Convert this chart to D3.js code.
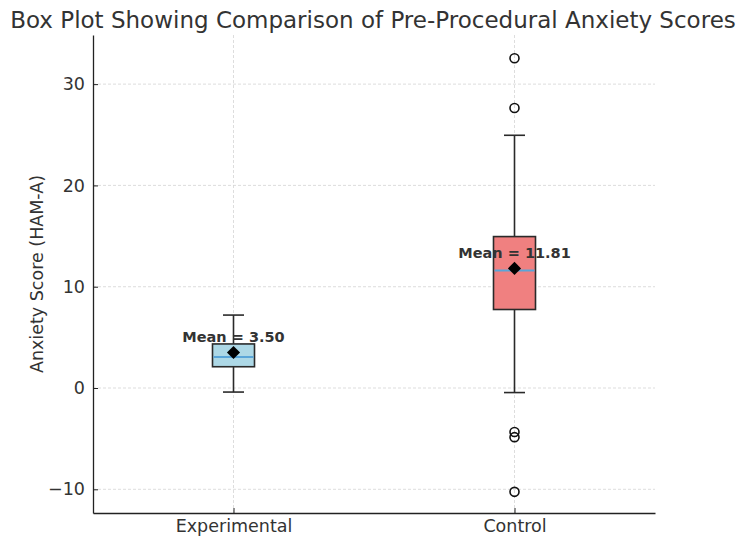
<!DOCTYPE html>
<html>
<head>
<meta charset="utf-8">
<script src="https://cdn.jsdelivr.net/npm/d3@7"></script>
<style>
	body { margin: 0; background: white; }
	text { font-family: "DejaVu Sans", sans-serif; fill: #333; }
</style>
</head>
<body>
<svg id="chart" width="750" height="548"></svg>
<script>
// box statistics
const groups = ["Experimental", "Control"];
const whisker_low = [-0.4, -0.45];
const q1 = [2.1, 7.75];
const medians = [3.05, 11.6];
const q3 = [4.35, 14.95];
const whisker_high = [7.2, 24.95];
const means = [3.50, 11.81];
const outliers = [[], [32.55, 27.65, -4.35, -4.85, -10.25]];
const box_colors = ["#add8e6", "#f08080"];
const y_ticks = [-10, 0, 10, 20, 30];

const svg = d3.select("#chart");
const margin = {left: 93, right: 95, top: 35, bottom: 35};
const width = 750 - margin.left - margin.right;
const height = 548 - margin.top - margin.bottom;

const x = d3.scaleLinear().domain([0.5, 2.5]).range([0, width]);
const y = d3.scaleLinear().domain([-12.34, 34.85]).range([height, 0]);

const g = svg.append("g")
	.attr("transform", "translate(" + margin.left + "," + margin.top + ")");

// grid
g.selectAll(".hgrid")
	.data(y_ticks)
	.enter()
	.append("line")
	.attr("x1", 0).attr("x2", width)
	.attr("y1", d => y(d)).attr("y2", d => y(d))
	.attr("stroke", "#d4d4d4").attr("stroke-dasharray", "3,2").attr("stroke-width", 0.8);

g.selectAll(".vgrid")
	.data(groups)
	.enter()
	.append("line")
	.attr("x1", (d, i) => x(i + 1)).attr("x2", (d, i) => x(i + 1))
	.attr("y1", 0).attr("y2", height)
	.attr("stroke", "#d4d4d4").attr("stroke-dasharray", "3,2").attr("stroke-width", 0.8);

// axes
const y_axis = d3.axisLeft(y).tickValues(y_ticks).tickSizeInner(-5).tickSizeOuter(0).tickPadding(8)
	.tickFormat(d => d < 0 ? "\u2212" + Math.abs(d) : d);
const y_g = g.append("g").call(y_axis);
y_g.selectAll("text").style("font-size", "17.5px");

const x_axis = d3.axisBottom(x).tickValues([1, 2]).tickSizeInner(-5).tickSizeOuter(0).tickPadding(7)
	.tickFormat(d => groups[d - 1]);
const x_g = g.append("g").attr("transform", "translate(0," + height + ")").call(x_axis);
x_g.selectAll("text").style("font-size", "17.5px");

[y_g, x_g].forEach(a => {
	a.select(".domain").attr("stroke", "#222").attr("stroke-width", 1.3);
	a.selectAll(".tick line").attr("stroke", "#222").attr("stroke-width", 1);
	a.selectAll("text").attr("fill", "#333");
});

// boxes
const box_w = 42;
const cap_w = 21;
const box = g.selectAll(".box")
	.data(groups)
	.enter()
	.append("g")
	.attr("class", "box")
	.attr("transform", (d, i) => "translate(" + x(i + 1) + ",0)");

box.append("line")
	.attr("y1", (d, i) => y(whisker_low[i])).attr("y2", (d, i) => y(q1[i]))
	.attr("stroke", "#2a2a2a").attr("stroke-width", 1.6);
box.append("line")
	.attr("y1", (d, i) => y(q3[i])).attr("y2", (d, i) => y(whisker_high[i]))
	.attr("stroke", "#2a2a2a").attr("stroke-width", 1.6);
box.append("line")
	.attr("x1", -cap_w / 2).attr("x2", cap_w / 2)
	.attr("y1", (d, i) => y(whisker_low[i])).attr("y2", (d, i) => y(whisker_low[i]))
	.attr("stroke", "#2a2a2a").attr("stroke-width", 1.6);
box.append("line")
	.attr("x1", -cap_w / 2).attr("x2", cap_w / 2)
	.attr("y1", (d, i) => y(whisker_high[i])).attr("y2", (d, i) => y(whisker_high[i]))
	.attr("stroke", "#2a2a2a").attr("stroke-width", 1.6);

box.append("rect")
	.attr("x", -box_w / 2).attr("width", box_w)
	.attr("y", (d, i) => y(q3[i]))
	.attr("height", (d, i) => y(q1[i]) - y(q3[i]))
	.attr("fill", (d, i) => box_colors[i])
	.attr("stroke", "#2a2a2a").attr("stroke-width", 1.6);

box.append("line")
	.attr("x1", -box_w / 2 + 1).attr("x2", box_w / 2 - 1)
	.attr("y1", (d, i) => y(medians[i])).attr("y2", (d, i) => y(medians[i]))
	.attr("stroke", "#5aa5d8").attr("stroke-width", 2);

box.selectAll(".flier")
	.data((d, i) => outliers[i])
	.enter()
	.append("circle")
	.attr("r", 4.5)
	.attr("cy", d => y(d))
	.attr("fill", "none").attr("stroke", "#111").attr("stroke-width", 1.6);

// mean markers
box.append("path")
	.attr("d", d3.symbol().type(d3.symbolDiamond2).size(110))
	.attr("transform", (d, i) => "translate(0," + y(means[i]) + ")")
	.attr("fill", "black");

box.append("text")
	.attr("y", (d, i) => y(means[i] + 1))
	.attr("text-anchor", "middle")
	.style("font-size", "14.5px").style("font-weight", "bold")
	.text((d, i) => "Mean = " + means[i].toFixed(2));

// labels
svg.append("text")
	.attr("x", 373).attr("y", 28)
	.attr("text-anchor", "middle")
	.style("font-size", "23px")
	.text("Box Plot Showing Comparison of Pre-Procedural Anxiety Scores");

svg.append("text")
	.attr("transform", "translate(43," + (margin.top + height / 2) + ") rotate(-90)")
	.attr("text-anchor", "middle")
	.style("font-size", "17.5px")
	.text("Anxiety Score (HAM-A)");
</script>
</body>
</html>
